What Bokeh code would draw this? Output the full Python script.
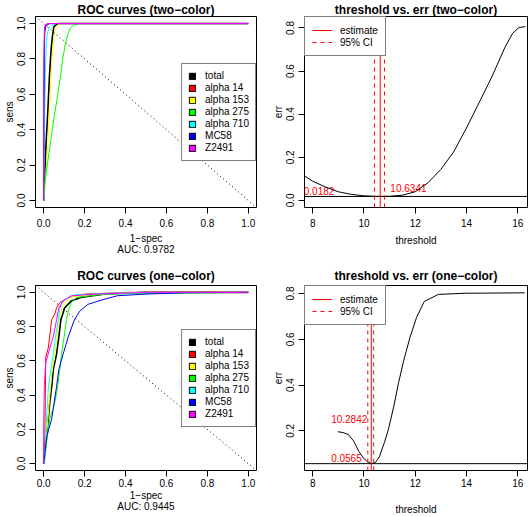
import numpy as np
from bokeh.plotting import figure
from bokeh.layouts import gridplot
from bokeh.models import (Range1d, FixedTicker, Slope, Legend, LegendItem,
                          NumeralTickFormatter)
from bokeh.core.properties import value
from bokeh.embed import file_html
from bokeh.resources import INLINE

FONT = "Liberation Sans"

# ---------------- data ----------------
series_names = ["total", "alpha 14", "alpha 153", "alpha 275", "alpha 710", "MC58", "Z2491"]
series_colors = ["#000000", "#FF0000", "#FFFF00", "#00FF00", "#00FFFF", "#0000FF", "#FF00FF"]
series_widths = [1.6, 1, 1, 1, 1, 1, 1]

# two-color ROC curves (1-spec, sens)
tc_total_x = [0, 0.003, 0.011, 0.02, 0.028, 0.036, 0.042, 0.049, 0.057, 0.07, 1.0]
tc_total_y = [0, 0.086, 0.31, 0.5, 0.7, 0.85, 0.92, 0.98, 0.99, 1.0, 1.0]
tc_a14_x = [0, 0.001, 0.002, 0.004, 0.008, 0.02, 1.0]
tc_a14_y = [0, 0.3, 0.7, 0.93, 0.98, 1.0, 1.0]
tc_a153_x = [0, 0.008, 0.02, 0.028, 0.036, 0.044, 0.052, 0.062, 0.08, 1.0]
tc_a153_y = [0, 0.09, 0.31, 0.5, 0.7, 0.85, 0.94, 0.985, 1.0, 1.0]
tc_a275_x = [0, 0.006, 0.02, 0.03, 0.042, 0.055, 0.069, 0.082, 0.093, 0.105, 0.118, 0.13, 0.145, 0.17, 1.0]
tc_a275_y = [0, 0.1, 0.22, 0.3, 0.4, 0.5, 0.6, 0.7, 0.8, 0.88, 0.94, 0.975, 0.99, 1.0, 1.0]
tc_a710_x = [0, 0.002, 0.005, 0.009, 0.013, 0.018, 0.024, 0.04, 0.06, 1.0]
tc_a710_y = [0, 0.2, 0.5, 0.75, 0.9, 0.94, 0.97, 0.99, 1.0, 1.0]
tc_mc58_x = [0, 0.001, 0.003, 0.005, 0.008, 0.013, 0.03, 1.0]
tc_mc58_y = [0, 0.5, 0.83, 0.95, 0.98, 0.99, 1.0, 1.0]
tc_z2491_x = [0, 0, 0.002, 0.004, 0.01, 0.02, 1.0]
tc_z2491_y = [0, 0.58, 0.9, 0.98, 0.995, 1.0, 1.0]

# one-color ROC curves (1-spec, sens)
oc_total_x = [0, 0.004, 0.015, 0.03, 0.039, 0.047, 0.063, 0.074, 0.084, 0.103, 0.135, 0.18, 0.3, 0.5, 1.0]
oc_total_y = [0, 0.06, 0.16, 0.36, 0.45, 0.55, 0.64, 0.74, 0.84, 0.91, 0.95, 0.97, 0.99, 1.0, 1.0]
oc_a14_x = [0, 0.003, 0.006, 0.008, 0.01, 0.023, 0.039, 0.055, 0.063, 0.079, 0.12, 0.2, 0.4, 1.0]
oc_a14_y = [0, 0.08, 0.16, 0.4, 0.62, 0.68, 0.84, 0.875, 0.91, 0.94, 0.97, 0.99, 1.0, 1.0]
oc_a153_x = [0, 0.008, 0.02, 0.03, 0.04, 0.055, 0.065, 0.074, 0.09, 0.11, 0.14, 0.26, 0.5, 1.0]
oc_a153_y = [0, 0.08, 0.25, 0.4, 0.53, 0.64, 0.74, 0.84, 0.91, 0.95, 0.975, 0.99, 1.0, 1.0]
oc_a275_x = [0, 0.006, 0.018, 0.03, 0.055, 0.068, 0.079, 0.087, 0.1, 0.111, 0.12, 0.135, 0.16, 0.3, 1.0]
oc_a275_y = [0, 0.03, 0.16, 0.26, 0.36, 0.45, 0.55, 0.64, 0.74, 0.84, 0.89, 0.94, 0.97, 0.99, 1.0]
oc_a710_x = [0, 0.006, 0.013, 0.023, 0.035, 0.047, 0.058, 0.071, 0.079, 0.103, 0.15, 0.34, 1.0]
oc_a710_y = [0, 0.06, 0.25, 0.45, 0.55, 0.64, 0.74, 0.84, 0.91, 0.96, 0.985, 0.996, 1.0]
oc_mc58_x = [0, 0.004, 0.015, 0.039, 0.063, 0.074, 0.095, 0.12, 0.15, 0.176, 0.216, 0.297, 0.36, 0.5, 0.7, 1.0]
oc_mc58_y = [0, 0.04, 0.16, 0.26, 0.45, 0.55, 0.64, 0.74, 0.84, 0.89, 0.93, 0.96, 0.98, 0.99, 0.998, 1.0]
oc_z2491_x = [0, 0, 0, 0.003, 0.01, 0.031, 0.047, 0.063, 0.074, 0.095, 0.135, 0.26, 0.5, 1.0]
oc_z2491_y = [0, 0.01, 0.22, 0.45, 0.59, 0.68, 0.74, 0.84, 0.91, 0.95, 0.98, 0.99, 1.0, 1.0]

tc_auc_text = "AUC: 0.9782"
oc_auc_text = "AUC: 0.9445"

# threshold vs err
tr_thr = [7.68, 8.0, 8.5, 9.0, 9.5, 10.0, 10.5, 11.0, 11.5, 12.0, 12.5, 13.0, 13.5, 14.0,
          14.5, 15.0, 15.5, 15.8, 16.05, 16.3]
tr_err = [0.113, 0.089, 0.062, 0.04, 0.028, 0.021, 0.0185, 0.019, 0.024, 0.04, 0.082, 0.144,
          0.225, 0.336, 0.455, 0.576, 0.71, 0.775, 0.802, 0.806]
tr_min_err = 0.0182
tr_estimate = 10.6341
tr_ci = [10.41, 10.80]
tr_label_x = [7.65, 11.03]
tr_label_y = [0.043, 0.058]
tr_label_text = ["0.0182", "10.6341"]

br_thr = [8.98, 9.2, 9.4, 9.6, 9.8, 10.0, 10.15, 10.3, 10.45, 10.6, 10.8, 10.95, 11.15,
          11.35, 11.55, 11.8, 12.05, 12.35, 12.9, 13.9, 16.27]
br_err = [0.196, 0.192, 0.183, 0.155, 0.11, 0.078, 0.064, 0.0565, 0.062, 0.086, 0.15, 0.205,
          0.3, 0.41, 0.507, 0.61, 0.695, 0.765, 0.796, 0.801, 0.803]
br_min_err = 0.0565
br_estimate = 10.2842
br_ci = [10.15, 10.38]
br_label_x = [8.72, 8.72]
br_label_y = [0.25, 0.081]
br_label_text = ["10.2842", "0.0565"]

roc_ticks = [0.0, 0.2, 0.4, 0.6, 0.8, 1.0]
thr_ticks = [8, 10, 12, 14, 16]
tr_err_ticks = [0.0, 0.2, 0.4, 0.6, 0.8]
br_err_ticks = [0.2, 0.4, 0.6, 0.8]

NAN1 = np.array([np.nan])  # legend-only proxy glyphs (filled boxes of the legend)


def style(p, xticks, yticks, xfmt, yfmt, xlabel, ylabel, title, title_standoff,
          xtick_standoff, xlabel_standoff):
    p.title.text = title
    p.title.align = "center"
    p.title.text_font = FONT
    p.title.text_font_size = "12px"
    p.title.text_font_style = "bold"
    p.title.text_color = "black"
    p.title.standoff = title_standoff
    p.grid.visible = False
    p.outline_line_color = "black"
    p.outline_line_alpha = 1
    p.outline_line_width = 1
    p.background_fill_color = "white"
    p.border_fill_color = "white"
    p.xaxis.ticker = FixedTicker(ticks=xticks)
    p.yaxis.ticker = FixedTicker(ticks=yticks)
    p.xaxis.formatter = NumeralTickFormatter(format=xfmt)
    p.yaxis.formatter = NumeralTickFormatter(format=yfmt)
    p.xaxis.axis_label = xlabel
    p.yaxis.axis_label = ylabel
    for ax in p.axis:
        ax.axis_line_color = None
        ax.major_tick_out = 6
        ax.major_tick_in = 0
        ax.minor_tick_out = 0
        ax.minor_tick_in = 0
        ax.major_tick_line_color = "black"
        ax.major_label_text_font = FONT
        ax.major_label_text_font_size = "10px"
        ax.major_label_text_color = "black"
        ax.axis_label_text_font = FONT
        ax.axis_label_text_font_size = "10px"
        ax.axis_label_text_font_style = "normal"
        ax.axis_label_text_color = "black"
        ax.axis_label_text_line_height = 1.0
    p.xaxis.major_label_standoff = xtick_standoff
    p.xaxis.axis_label_standoff = xlabel_standoff
    p.yaxis.major_label_orientation = "vertical"
    p.yaxis.major_label_standoff = 4
    p.yaxis.axis_label_standoff = 0


def roc_panel(width, height, mbl, mbr, mbt, mbb, title, curves, auc_text, tstand,
              xts, xls):
    p = figure(width=width, height=height, x_range=Range1d(-0.04, 1.04),
               y_range=Range1d(-0.04, 1.04), output_backend="svg", toolbar_location=None,
               min_border_left=mbl, min_border_right=mbr, min_border_top=mbt,
               min_border_bottom=mbb)
    style(p, roc_ticks, roc_ticks, "0.0", "0.0", "1\u2212spec\n" + auc_text, "sens", title,
          tstand, xts, xls)
    p.add_layout(Slope(gradient=-1, y_intercept=1, line_color="black", line_width=1,
                       line_dash="1 3"))
    for (xs, ys), c, w in zip(curves, series_colors, series_widths):
        p.line(xs, ys, line_color=c, line_width=w)
    items = []
    for name, c in zip(series_names, series_colors):
        r = p.quad(left=NAN1, right=NAN1, top=NAN1, bottom=NAN1, fill_color=c,
                   line_color="black", line_width=1)
        items.append(LegendItem(label=name, renderers=[r]))
    leg = Legend(items=items, location="center_right", margin=0, padding=6, spacing=0,
                 glyph_width=8, glyph_height=8, label_height=12, label_standoff=9,
                 label_text_font=FONT, label_text_font_size="10px",
                 label_text_color="black", border_line_color="black", border_line_width=1,
                 background_fill_color="white", background_fill_alpha=1)
    p.add_layout(leg)
    return p


def thr_panel(width, height, mbl, mbr, mbt, mbb, title, thr, err, xr, yr, yticks, min_err,
              est, ci, lx, ly, lt, tstand, xts, xls):
    p = figure(width=width, height=height, x_range=Range1d(*xr),
               y_range=Range1d(*yr), output_backend="svg", toolbar_location=None,
               min_border_left=mbl, min_border_right=mbr, min_border_top=mbt,
               min_border_bottom=mbb)
    style(p, thr_ticks, yticks, "0", "0.0", "threshold", "err", title, tstand, xts, xls)
    p.text(x=lx, y=ly, text=lt, text_color="red", text_font=value(FONT),
           text_font_size="10px", text_align="left", text_baseline="middle")
    p.line(thr, err, line_color="black", line_width=1)
    p.line([xr[0], xr[1]], [min_err, min_err], line_color="black", line_width=1)
    r2 = p.multi_line(xs=[[c, c] for c in ci], ys=[[yr[0], yr[1]] for _ in ci],
                      line_color="#FF0000", line_width=1, line_dash="4 4")
    r1 = p.multi_line(xs=[[est, est]], ys=[[yr[0], yr[1]]],
                      line_color="#FF0000", line_width=1)
    leg = Legend(items=[LegendItem(label="estimate", renderers=[r1]),
                        LegendItem(label="95% CI", renderers=[r2])],
                 location="top_left", margin=0, padding=7, spacing=0,
                 glyph_width=20, glyph_height=12, label_height=12, label_standoff=8,
                 label_text_font=FONT, label_text_font_size="10px",
                 label_text_color="black", border_line_color="black", border_line_width=1,
                 background_fill_color="white", background_fill_alpha=1)
    p.add_layout(leg)
    return p


tc_curves = [(tc_total_x, tc_total_y), (tc_a14_x, tc_a14_y), (tc_a153_x, tc_a153_y),
             (tc_a275_x, tc_a275_y), (tc_a710_x, tc_a710_y), (tc_mc58_x, tc_mc58_y),
             (tc_z2491_x, tc_z2491_y)]
oc_curves = [(oc_total_x, oc_total_y), (oc_a14_x, oc_a14_y), (oc_a153_x, oc_a153_y),
             (oc_a275_x, oc_a275_y), (oc_a710_x, oc_a710_y), (oc_mc58_x, oc_mc58_y),
             (oc_z2491_x, oc_z2491_y)]

thr_range = (7.68, 16.38)

p1 = roc_panel(264, 258, 33, 8, 15, 51, "ROC curves (two\u2212color)", tc_curves,
               tc_auc_text, 0, 5, 3)
p2 = thr_panel(265, 258, 40, 2, 15, 51, "threshold vs. err (two\u2212color)", tr_thr, tr_err,
               thr_range, (-0.033, 0.853), tr_err_ticks, tr_min_err, tr_estimate, tr_ci,
               tr_label_x, tr_label_y, tr_label_text, 0, 5, 5)
p3 = roc_panel(264, 259, 33, 8, 27, 44, "ROC curves (one\u2212color)", oc_curves,
               oc_auc_text, 5, 2, 0)
p4 = thr_panel(265, 259, 40, 2, 27, 44, "threshold vs. err (one\u2212color)", br_thr, br_err,
               thr_range, (0.0266, 0.835), br_err_ticks, br_min_err, br_estimate, br_ci,
               br_label_x, br_label_y, br_label_text, 5, 2, 14)

grid = gridplot([[p1, p2], [p3, p4]], toolbar_location=None)
open("out.html", "w").write(file_html(grid, INLINE))
